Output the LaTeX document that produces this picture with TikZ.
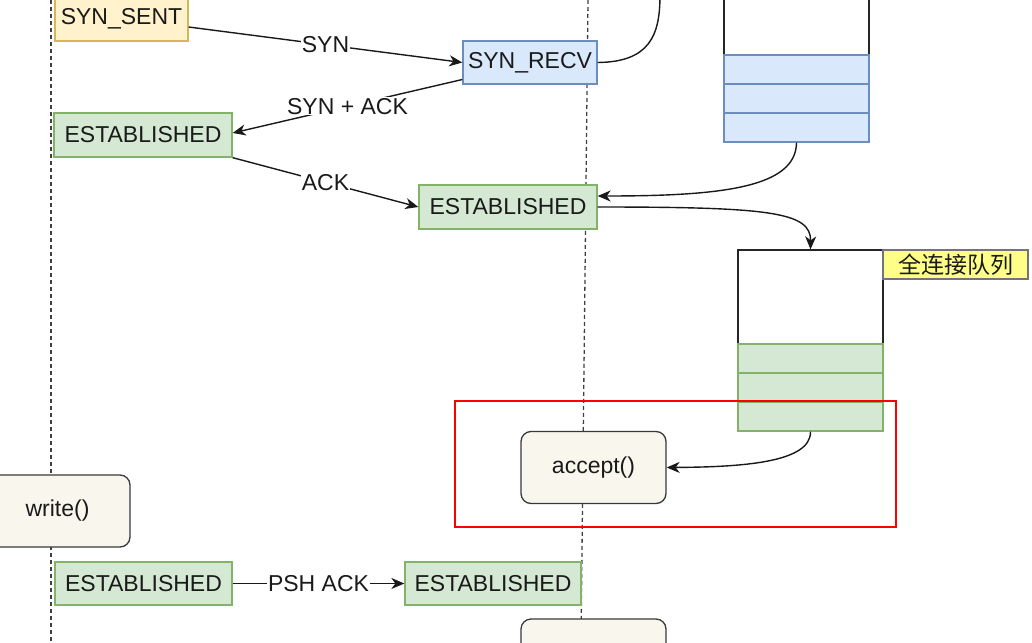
\documentclass[tikz,border=0pt]{standalone}
\usepackage{fontspec}
\setmainfont{Liberation Sans}
\newfontfamily\cjk{Noto Sans CJK SC}
\usetikzlibrary{arrows.meta}
\definecolor{gfill}{HTML}{D5E8D4}
\definecolor{gline}{HTML}{82B366}
\definecolor{bfill}{HTML}{DAE8FC}
\definecolor{bline}{HTML}{6C8EBF}
\definecolor{yfill}{HTML}{FFF2CC}
\definecolor{yline}{HTML}{D6B656}
\definecolor{nfill}{HTML}{FFFF88}
\definecolor{dline}{HTML}{36393D}
\definecolor{rfill}{HTML}{F9F7ED}
\definecolor{txt}{HTML}{1A1A1A}
\begin{document}
\begin{tikzpicture}[x=1pt,y=-1pt,
  font=\fontsize{23}{27}\selectfont, text=txt,
  box/.style={draw, line width=1.3pt, inner sep=0pt},
  grn/.style={box, fill=gfill, draw=gline},
  blu/.style={box, fill=bfill, draw=bline},
  yel/.style={box, fill=yfill, draw=yline},
  rbox/.style={box, fill=rfill, draw=dline, rounded corners=10pt},
  qwhite/.style={box, fill=white, draw=black!85, minimum width=145pt},
  edge/.style={line width=1.4pt, draw=black!90, -{Stealth[length=13pt,width=11pt,inset=4pt]}},
  plain/.style={line width=1.4pt, draw=black!90},
  elabel/.style={fill=white, inner sep=1pt, text=txt},
  life/.style={line width=1.3pt, draw=black!75, dash pattern=on 4pt off 3pt}
]
\useasboundingbox (0,0) rectangle (1032,642);
\clip (0,0) rectangle (1032,642);

% lifelines
\coordinate (l1top) at (51,0);
\coordinate (l1bot) at (51,642);
\coordinate (l2top) at (588,0);
\coordinate (l2bot) at (581,642);
\draw[life] (l1top) -- (l1bot);
\draw[life] (l2top) -- (l2bot);

% states
\node[yel, minimum width=133pt, minimum height=44pt] (sent) at (121.5,19) {SYN\_SENT};
\node[blu, minimum width=134pt, minimum height=43pt] (recv) at (530,62.5) {SYN\_RECV};
\node[grn, minimum width=178pt, minimum height=44pt] (est1) at (143,135) {ESTABLISHED};
\node[grn, minimum width=178pt, minimum height=44pt] (est2) at (508,207) {ESTABLISHED};
\node[grn, minimum width=177pt, minimum height=43pt] (est3) at (143.5,583.5) {ESTABLISHED};
\node[grn, minimum width=176pt, minimum height=43pt] (est4) at (493,583.5) {ESTABLISHED};

% half queue
\node[qwhite, minimum height=65pt] (q1top) at (796.5,22.5) {};
\node[blu, minimum width=145pt, minimum height=29pt] (q1a) at (796.5,69.5) {};
\node[blu, minimum width=145pt, minimum height=29pt] (q1b) at (796.5,98.5) {};
\node[blu, minimum width=145pt, minimum height=29pt] (q1c) at (796.5,127.5) {};

% full queue
\node[qwhite, minimum height=94pt] (q2top) at (810.5,297) {};
\node[grn, minimum width=145pt, minimum height=29pt] (q2a) at (810.5,358.5) {};
\node[grn, minimum width=145pt, minimum height=29pt] (q2b) at (810.5,387.5) {};
\node[grn, minimum width=145pt, minimum height=29pt] (q2c) at (810.5,416.5) {};
\node[box, fill=nfill, draw=dline!70, minimum width=145pt, minimum height=29pt] (full) at (955.5,264.5) {\cjk 全连接队列};

% calls
\node[rbox, minimum width=145pt, minimum height=72pt] (accept) at (593.5,467.5) {accept()};
\node[rbox, minimum width=145pt, minimum height=72pt] (write) at (57.5,511) {write()};
\node[rbox, minimum width=145pt, minimum height=72pt] (next) at (593.5,655) {};

% highlight
\node[draw=red, line width=2pt, minimum width=441pt, minimum height=126pt, inner sep=0pt] (focus) at (675.5,463.5) {};

% handshake
\draw[edge] ([yshift=-8pt]sent.east) -- node[elabel] {SYN} (recv.west);
\draw[edge] ([yshift=-17pt]recv.west) -- node[elabel] {SYN + ACK} ([yshift=2pt]est1.east);
\draw[edge] (est1.south east) -- node[elabel] {ACK} (est2.west);
\draw[edge] (est3.east) -- node[elabel] {PSH ACK} (est4.west);

% queue curves
\coordinate (offtop) at (660,-5);
\draw[plain] (recv.east) .. controls (650,62) and (660,35) .. (offtop);
\draw[edge] (q1c.south) .. controls (796,188) and (720,196) .. ([yshift=11pt]est2.east);
\draw[edge] (est2.east) .. controls (770,207) and (811,212) .. (q2top.north);
\draw[edge] (q2c.south) .. controls (811,463) and (740,467) .. (accept.east);
\end{tikzpicture}
\end{document}
